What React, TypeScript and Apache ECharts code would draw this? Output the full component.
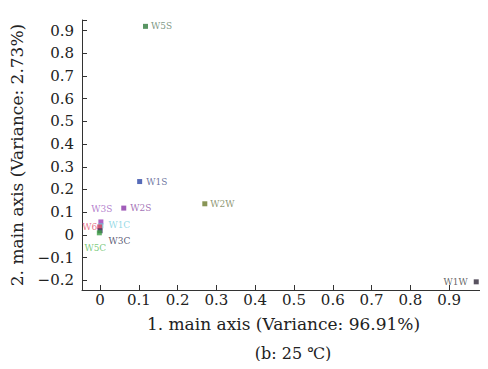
import React, { useEffect, useRef } from "react";
import * as echarts from "echarts";

const names = ["W5S", "W1S", "W2W", "W2S", "W1W", "W3S", "W1C", "W6", "W3C", "W5C"];
const xValues = [0.117, 0.102, 0.27, 0.061, 0.97, 0.002, 0.002, -0.001, 0.0, -0.002];
const yValues = [0.919, 0.235, 0.137, 0.118, -0.207, 0.057, 0.04, 0.035, 0.018, 0.009];
const markerColors = ["#2f7a3c", "#2c46a6", "#6b7a2c", "#8a34a8", "#302838", "#9a3cb4", "#6cc8d8", "#d8385a", "#2a2a52", "#3fa046"];
const labelColors = ["#5d7c63", "#4a5488", "#6f7c4e", "#8c4ea4", "#404040", "#a05ec0", "#7ad0e0", "#e0506e", "#2e2e50", "#5cbc5c"];
const xTitle = "1. main axis (Variance: 96.91%)";
const yTitle = "2. main axis (Variance: 2.73%)";
const subTitle = "(b: 25 \u2103)";

const labelPlacement: Record<string, any> = {
  W5S: { position: "right", distance: 3 },
  W1S: { position: "right", distance: 4 },
  W2W: { position: "right", distance: 3 },
  W2S: { position: "right", distance: 4 },
  W1W: { position: "left", distance: 6 },
  W3S: { position: "top", distance: 6, offset: [1, 0] },
  W1C: { position: "right", distance: 5, offset: [0, -1] },
  W6: { position: "left", distance: 2, offset: [2, 0] },
  W3C: { position: "right", distance: 6, offset: [0, 10] },
  W5C: { position: "bottom", distance: 8, offset: [-4, 0] },
};

const FONT = "'DejaVu Serif', 'Liberation Serif', serif";

function fmt(v: number) {
  const r = Math.round(v * 10);
  if (Math.abs(v * 10 - r) > 1e-6) return "";
  if (r === 0) return "0";
  const s = (Math.abs(r) / 10).toFixed(1);
  return r < 0 ? "\u2212" + s : s;
}

export default function App() {
  const ref = useRef<HTMLDivElement>(null);
  useEffect(() => {
    if (!ref.current) return;
    const chart = echarts.init(ref.current, undefined, { renderer: "svg" });
    const data = names.map((n, i) => ({
      name: n,
      value: [xValues[i], yValues[i]],
      itemStyle: { color: markerColors[i] },
      label: {
        show: true,
        formatter: n,
        color: labelColors[i],
        fontFamily: FONT,
        fontSize: 9,
        ...labelPlacement[n],
      },
    }));
    const axisCommon = {
      axisLine: { show: true, onZero: false, lineStyle: { color: "#333", width: 1 } },
      axisTick: { show: true, inside: true, length: 5, lineStyle: { color: "#333" } },
      splitLine: { show: false },
      nameTextStyle: { color: "#222", fontFamily: FONT, fontSize: 17 },
      nameLocation: "middle" as const,
    };
    chart.setOption({
      animation: false,
      grid: { left: 81, right: 0, top: 20, bottom: 79 },
      xAxis: {
        type: "value",
        min: -0.0467,
        max: 0.9926,
        splitNumber: 10,
        name: xTitle,
        nameGap: 25,
        axisLabel: { color: "#222", fontFamily: FONT, fontSize: 15, margin: 2, formatter: fmt },
        ...axisCommon,
      },
      yAxis: {
        type: "value",
        min: -0.243,
        max: 0.947,
        splitNumber: 11,
        name: yTitle,
        nameGap: 57,
        axisLabel: { color: "#222", fontFamily: FONT, fontSize: 15, margin: 8, formatter: fmt },
        ...axisCommon,
      },
      graphic: [
        {
          type: "text",
          x: 293,
          y: 353,
          style: {
            text: subTitle,
            fill: "#222",
            font: `16px ${FONT}`,
            textAlign: "center",
            textVerticalAlign: "middle",
          },
        },
      ],
      series: [
        {
          type: "scatter",
          symbol: "rect",
          symbolSize: 5,
          data,
        },
      ],
    });
    return () => chart.dispose();
  }, []);
  return <div ref={ref} style={{ width: 488, height: 369, margin: -8 }} />;
}
